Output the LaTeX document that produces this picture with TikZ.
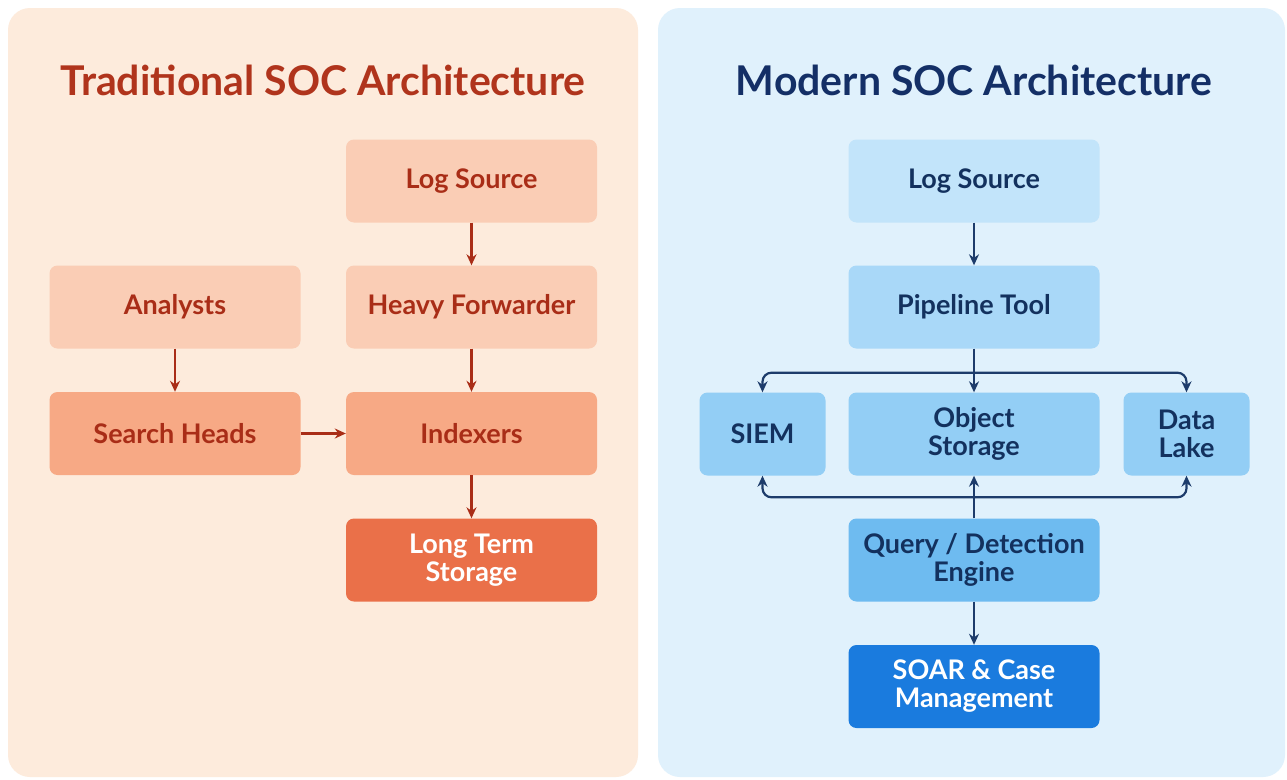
\documentclass[tikz,border=0pt]{standalone}
\usepackage{fontspec}
\setmainfont{Lato}
\usetikzlibrary{arrows.meta,positioning,calc}

\definecolor{tradbg}{HTML}{FDEBDC}
\definecolor{tradlight}{HTML}{FACDB5}
\definecolor{tradmid}{HTML}{F7A985}
\definecolor{traddark}{HTML}{EA7049}
\definecolor{tradtext}{HTML}{A92D17}
\definecolor{tradtitle}{HTML}{B0341C}
\definecolor{modbg}{HTML}{E0F1FC}
\definecolor{modA}{HTML}{C2E4FA}
\definecolor{modB}{HTML}{A9D8F8}
\definecolor{modC}{HTML}{93CEF5}
\definecolor{modD}{HTML}{6EBBF0}
\definecolor{modE}{HTML}{1A7BDE}
\definecolor{modtext}{HTML}{13315E}
\definecolor{modtitle}{HTML}{142F66}
\definecolor{modarrow}{HTML}{1D3C6B}

\tikzset{
  box/.style={rounded corners=8pt, inner sep=0pt, align=center,
    font=\fontsize{27}{28}\selectfont\bfseries,
    minimum width=251pt, minimum height=83pt},
  smallbox/.style={box, minimum width=126pt},
  tradbox/.style={box, text=tradtext},
  modbox/.style={box, text=modtext},
  title/.style={font=\fontsize{41}{46}\selectfont\bfseries},
  tradarr/.style={draw=tradtext, line width=2.2pt, -{Stealth[length=11pt,width=10pt]}},
  modarr/.style={draw=modarrow, line width=2.2pt, -{Stealth[length=11pt,width=10pt]}},
}

\begin{document}
\begin{tikzpicture}[x=1pt,y=-1pt]
  \useasboundingbox[fill=white] (0,0) rectangle (1287,779);

  % panels
  \fill[tradbg, rounded corners=22pt] (8,8) rectangle (638,777);
  \fill[modbg, rounded corners=22pt] (658,8) rectangle (1285,777);

  % titles
  \node[title, text=tradtitle] (ttitle) at (323,80) {Traditional SOC Architecture};
  \node[title, text=modtitle] (mtitle) at (974,80) {Modern SOC Architecture};

  % traditional architecture
  \node[tradbox, fill=tradlight] (tlog) at (471.5,181) {Log Source};
  \node[tradbox, fill=tradlight] (tana) at (175,307) {Analysts};
  \node[tradbox, fill=tradlight] (thf) at (471.5,307) {Heavy Forwarder};
  \node[tradbox, fill=tradmid] (tsh) at (175,433.5) {Search Heads};
  \node[tradbox, fill=tradmid] (tidx) at (471.5,433.5) {Indexers};
  \node[box, fill=traddark, text=white] (tlts) at (471.5,560) {Long Term\\Storage};

  \draw[tradarr] (tlog) -- (thf);
  \draw[tradarr] (thf) -- (tidx);
  \draw[tradarr] (tana) -- (tsh);
  \draw[tradarr] (tsh) -- (tidx);
  \draw[tradarr] (tidx) -- (tlts);

  % modern architecture
  \node[modbox, fill=modA] (mlog) at (974,181) {Log Source};
  \node[modbox, fill=modB] (mpipe) at (974,307) {Pipeline Tool};
  \node[modbox, smallbox, fill=modC] (msiem) at (762.5,434) {SIEM};
  \node[modbox, fill=modC] (mobj) at (974,434) {Object\\Storage};
  \node[modbox, smallbox, fill=modC] (mlake) at (1186.5,434) {Data\\Lake};
  \node[modbox, fill=modD] (mquery) at (974,560) {Query / Detection\\Engine};
  \node[box, fill=modE, text=white] (msoar) at (974,686.5) {SOAR \& Case\\Management};

  \draw[modarr] (mlog) -- (mpipe);

  % fan-out from the pipeline
  \draw[modarr] (mpipe) -- (mobj);
  \coordinate (fanout) at ($(mpipe.south)+(0,24)$);
  \draw[modarr, rounded corners=9pt] (fanout) -| (msiem.north);
  \draw[modarr, rounded corners=9pt] (fanout) -| (mlake.north);

  % queries back into the stores
  \draw[modarr] (mquery) -- (mobj);
  \coordinate (fanin) at ($(mquery.north)+(0,-21)$);
  \draw[modarr, rounded corners=9pt] (fanin) -| (msiem.south);
  \draw[modarr, rounded corners=9pt] (fanin) -| (mlake.south);

  \draw[modarr] (mquery) -- (msoar);
\end{tikzpicture}
\end{document}
